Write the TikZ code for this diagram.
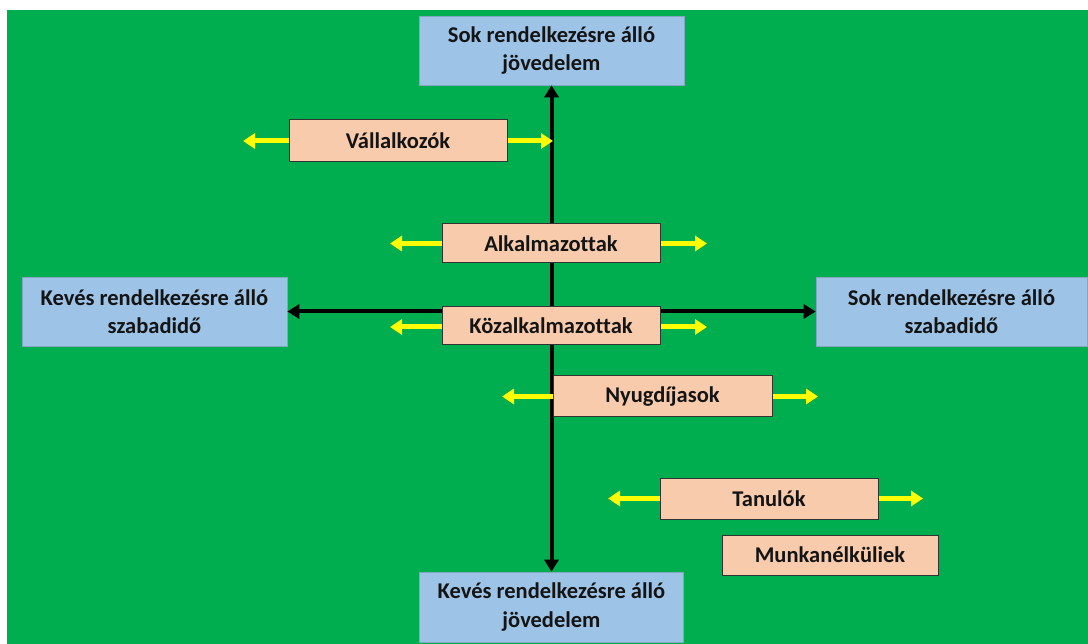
\documentclass[tikz,border=0pt]{standalone}
\usepackage{fontspec}
\setmainfont{Carlito}[Ligatures=NoCommon]
\usetikzlibrary{arrows.meta}
\definecolor{bggreen}{HTML}{00AD4F}
\definecolor{boxblue}{HTML}{9DC3E6}
\definecolor{boxsalmon}{HTML}{F8CBAD}
\definecolor{txt}{HTML}{141414}
\definecolor{ylw}{HTML}{FFFF00}
\tikzset{
  bluebox/.style={fill=boxblue, draw=boxblue!85!black, line width=0.6pt, align=center, text=txt,
    font=\fontsize{22.5}{28.5}\selectfont\bfseries, inner sep=0pt},
  salbox/.style={fill=boxsalmon, draw=black!80, line width=1pt, align=center, text=txt,
    font=\fontsize{22.5}{28.5}\selectfont\bfseries, inner sep=0pt},
  axisarrow/.style={line width=4pt, black, {Triangle[length=12pt,width=14pt]}-{Triangle[length=12pt,width=14pt]}},
  yarrow/.style={line width=5pt, ylw, -{Triangle[length=12pt,width=15pt]}}
}
\begin{document}
\begin{tikzpicture}[x=1pt,y=-1pt]
\useasboundingbox (0,0) rectangle (1088,644);
\fill[white] (0,0) rectangle (1088,644);
\fill[bggreen] (7,10) rectangle (1088,644);
% blue boxes
\node[bluebox, minimum width=265pt, minimum height=69pt] (top) at (551.5,50.5) {Sok rendelkezésre álló\\jövedelem};
\node[bluebox, minimum width=264pt, minimum height=70pt] (bot) at (551.5,607) {Kevés rendelkezésre álló\\jövedelem};
\node[bluebox, minimum width=265pt, minimum height=69pt] (left) at (154.5,311.5) {Kevés rendelkezésre álló\\szabadidő};
\node[bluebox, minimum width=271pt, minimum height=69pt] (right) at (951.5,311.5) {Sok rendelkezésre álló\\szabadidő};
% axes
\draw[axisarrow] (bot.north) -- (top.south);
\draw[axisarrow] (left.east) -- (right.west);
% salmon boxes
\node[salbox, minimum width=218pt, minimum height=42pt] (vall) at (398,141) {Vállalkozók};
\node[salbox, minimum width=218pt, minimum height=39pt] (alk) at (551,243.5) {Alkalmazottak};
\node[salbox, minimum width=218pt, minimum height=38pt] (koz) at (551,326) {Közalkalmazottak};
\node[salbox, minimum width=219pt, minimum height=41pt] (nyug) at (662.5,396.5) {Nyugdíjasok};
\node[salbox, minimum width=218pt, minimum height=41pt] (tan) at (769,498.5) {Tanulók};
\node[salbox, minimum width=216pt, minimum height=40pt] (munk) at (830,555) {Munkanélküliek};
% yellow arrow ends
\coordinate (vallL) at (243,141);
\coordinate (vallR) at (553,141);
\coordinate (alkL) at (390,243.5);
\coordinate (alkR) at (707,243.5);
\coordinate (kozL) at (390,327);
\coordinate (kozR) at (707,327);
\coordinate (nyugL) at (502,396.5);
\coordinate (nyugR) at (818,396.5);
\coordinate (tanL) at (608,498.5);
\coordinate (tanR) at (923,498.5);
\draw[yarrow] (vall.west) -- (vallL);
\draw[yarrow] (vall.east) -- (vallR);
\draw[yarrow] (alk.west) -- (alkL);
\draw[yarrow] (alk.east) -- (alkR);
\draw[yarrow] (koz.west |- kozL) -- (kozL);
\draw[yarrow] (koz.east |- kozR) -- (kozR);
\draw[yarrow] (nyug.west) -- (nyugL);
\draw[yarrow] (nyug.east) -- (nyugR);
\draw[yarrow] (tan.west) -- (tanL);
\draw[yarrow] (tan.east) -- (tanR);
\end{tikzpicture}
\end{document}
